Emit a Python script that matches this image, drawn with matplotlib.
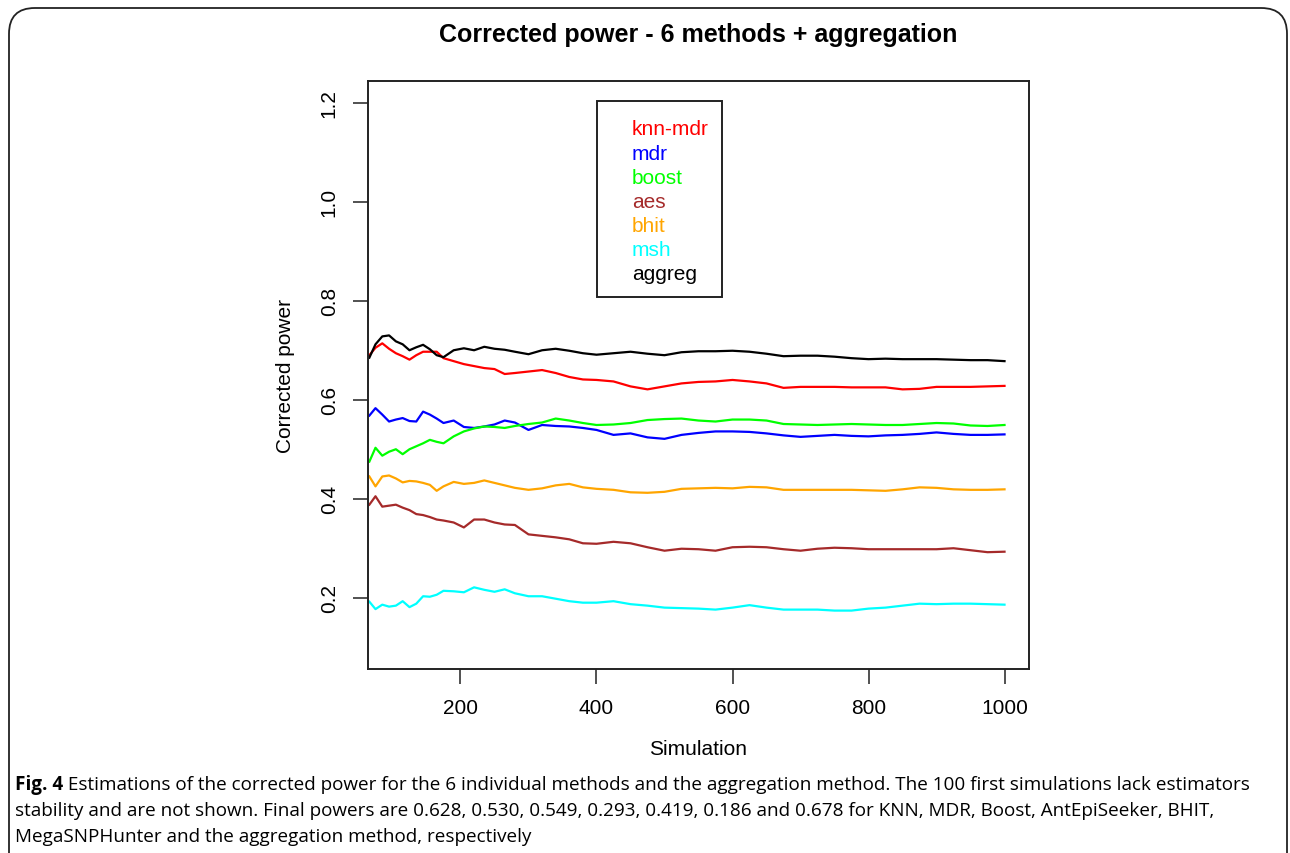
import matplotlib
matplotlib.use("Agg")
import matplotlib.pyplot as plt
from matplotlib.patches import FancyBboxPatch, Rectangle

# simulation index (running estimate of corrected power)
sims = [66, 75, 85, 95, 105, 115, 125, 135, 145, 155, 165, 175, 190, 205, 220, 235,
        250, 265, 280, 300, 320, 340, 360, 380, 400, 425, 450, 475, 500, 525, 550,
        575, 600, 625, 650, 675, 700, 725, 750, 775, 800, 825, 850, 875, 900, 925,
        950, 975, 1000]

knn_mdr = [0.690, 0.705, 0.714, 0.703, 0.694, 0.688, 0.681, 0.690, 0.697, 0.697, 0.697,
           0.684, 0.678, 0.672, 0.668, 0.664, 0.662, 0.652, 0.654, 0.657, 0.660, 0.654,
           0.646, 0.641, 0.640, 0.637, 0.627, 0.621, 0.627, 0.633, 0.636, 0.637, 0.640,
           0.637, 0.633, 0.624, 0.626, 0.626, 0.626, 0.625, 0.625, 0.625, 0.621, 0.622,
           0.626, 0.626, 0.626, 0.627, 0.628]
mdr = [0.568, 0.583, 0.570, 0.556, 0.560, 0.563, 0.557, 0.556, 0.576, 0.570, 0.562,
       0.553, 0.558, 0.545, 0.543, 0.546, 0.550, 0.558, 0.554, 0.539, 0.549, 0.547,
       0.546, 0.543, 0.539, 0.529, 0.532, 0.524, 0.521, 0.529, 0.533, 0.536, 0.536,
       0.535, 0.532, 0.528, 0.525, 0.527, 0.529, 0.527, 0.526, 0.528, 0.529, 0.531,
       0.534, 0.531, 0.529, 0.529, 0.530]
boost = [0.475, 0.503, 0.487, 0.495, 0.500, 0.490, 0.500, 0.506, 0.512, 0.519, 0.515,
         0.512, 0.526, 0.536, 0.542, 0.546, 0.545, 0.543, 0.547, 0.551, 0.554, 0.562,
         0.558, 0.553, 0.549, 0.550, 0.553, 0.559, 0.561, 0.562, 0.558, 0.556, 0.560,
         0.560, 0.558, 0.551, 0.550, 0.549, 0.550, 0.551, 0.550, 0.549, 0.549, 0.551,
         0.553, 0.552, 0.548, 0.547, 0.549]
aes = [0.388, 0.405, 0.384, 0.386, 0.388, 0.382, 0.377, 0.369, 0.367, 0.363, 0.358,
       0.356, 0.352, 0.342, 0.358, 0.358, 0.352, 0.348, 0.347, 0.328, 0.325, 0.322,
       0.318, 0.310, 0.309, 0.313, 0.310, 0.302, 0.295, 0.299, 0.298, 0.295, 0.302,
       0.303, 0.302, 0.298, 0.295, 0.299, 0.301, 0.300, 0.298, 0.298, 0.298, 0.298,
       0.298, 0.300, 0.296, 0.292, 0.293]
bhit = [0.445, 0.425, 0.445, 0.447, 0.441, 0.433, 0.436, 0.435, 0.432, 0.428, 0.416,
        0.425, 0.434, 0.430, 0.432, 0.437, 0.432, 0.427, 0.422, 0.418, 0.421, 0.427,
        0.430, 0.423, 0.420, 0.418, 0.413, 0.412, 0.414, 0.420, 0.421, 0.422, 0.421,
        0.424, 0.423, 0.418, 0.418, 0.418, 0.418, 0.418, 0.417, 0.416, 0.419, 0.423,
        0.422, 0.419, 0.418, 0.418, 0.419]
msh = [0.192, 0.177, 0.186, 0.182, 0.184, 0.193, 0.181, 0.188, 0.203, 0.202, 0.206,
       0.214, 0.213, 0.211, 0.221, 0.216, 0.212, 0.217, 0.209, 0.203, 0.203, 0.198,
       0.193, 0.190, 0.190, 0.193, 0.187, 0.184, 0.180, 0.179, 0.178, 0.176, 0.180,
       0.185, 0.180, 0.176, 0.176, 0.176, 0.174, 0.174, 0.178, 0.180, 0.184, 0.188,
       0.187, 0.188, 0.188, 0.187, 0.186]
aggreg = [0.685, 0.712, 0.728, 0.730, 0.718, 0.712, 0.700, 0.706, 0.711, 0.702, 0.690,
          0.686, 0.700, 0.704, 0.700, 0.707, 0.703, 0.701, 0.697, 0.692, 0.700, 0.703,
          0.699, 0.694, 0.691, 0.694, 0.697, 0.693, 0.690, 0.696, 0.698, 0.698, 0.699,
          0.697, 0.693, 0.688, 0.689, 0.689, 0.687, 0.684, 0.682, 0.683, 0.682, 0.682,
          0.682, 0.681, 0.680, 0.680, 0.678]

labels = ["knn-mdr", "mdr", "boost", "aes", "bhit", "msh", "aggreg"]
colors = ["#FF0000", "#0000FF", "#00FF00", "#A52A2A", "#FFA500", "#00FFFF", "#000000"]
series = [knn_mdr, mdr, boost, aes, bhit, msh, aggreg]

xticks = [200, 400, 600, 800, 1000]
yticks = [0.2, 0.4, 0.6, 0.8, 1.0, 1.2]

caption_bold = "Fig. 4"
caption_lines = [
    " Estimations of the corrected power for the 6 individual methods and the aggregation method. The 100 first simulations lack estimators",
    "stability and are not shown. Final powers are 0.628, 0.530, 0.549, 0.293, 0.419, 0.186 and 0.678 for KNN, MDR, Boost, AntEpiSeeker, BHIT,",
    "MegaSNPHunter and the aggregation method, respectively",
]

W, H = 1290, 854
plt.rcParams['font.family'] = ['Liberation Sans', 'DejaVu Sans']
fig = plt.figure(figsize=(W / 100, H / 100), dpi=100)

# rounded frame around the figure panel
frame = FancyBboxPatch((9 / W, -0.05), (1287 - 9) / W, (H - 9) / H + 0.05,
                       boxstyle="round,pad=0,rounding_size=0.02",
                       transform=fig.transFigure, fill=False, ec="#222222", lw=1.3,
                       mutation_aspect=W / H)
fig.patches.append(frame)

ax = fig.add_axes([368 / W, (H - 670) / H, (1029 - 368) / W, (670 - 82) / H])
for vals, c in zip(series, colors):
    ax.plot(sims, vals, color=c, lw=1.6)

ax.set_xlim(64, 1036)
ax.set_ylim(0.056, 1.244)
ax.set_xticks(xticks)
ax.set_yticks(yticks)
ax.set_yticklabels([f"{v:.1f}" for v in yticks], rotation=90, va="center")
ax.tick_params(direction="out", length=11, width=1.1, labelsize=15, pad=10, color="#222222")
for s in ax.spines.values():
    s.set_linewidth(1.4)
    s.set_color("#222222")
ax.set_xlabel("Simulation", fontsize=15, labelpad=16)
ax.set_ylabel("Corrected power", fontsize=15, labelpad=18)

fig.text(698 / W, 1 - 35 / H, "Corrected power - 6 methods + aggregation",
         ha="center", va="center", fontsize=18, fontweight="bold")

# R-style legend: coloured text, no line keys
fig.patches.append(Rectangle((597 / W, 1 - 298 / H), (722 - 597) / W, (298 - 102) / H,
                             transform=fig.transFigure, fill=False, ec="#222222", lw=1.4))
row_y = [130, 154, 179, 203, 227, 251, 275]
for lab, c, y in zip(labels, colors, row_y):
    fig.text(632 / W, 1 - y / H, lab, color=c, fontsize=15, ha="left", va="center")

# caption
cap_font = ['Open Sans', 'DejaVu Sans']
cap_size = 13.6
fig.canvas.draw()
r = fig.canvas.get_renderer()
tb = fig.text(15 / W, 1 - 785 / H, caption_bold, fontsize=cap_size, fontweight="bold",
              family=cap_font, ha="left", va="center")
bw = tb.get_window_extent(renderer=r).width
fig.text((15 + bw) / W, 1 - 785 / H, caption_lines[0], fontsize=cap_size,
         family=cap_font, ha="left", va="center")
fig.text(15 / W, 1 - 811 / H, caption_lines[1], fontsize=cap_size,
         family=cap_font, ha="left", va="center")
fig.text(15 / W, 1 - 837 / H, caption_lines[2], fontsize=cap_size,
         family=cap_font, ha="left", va="center")

fig.savefig("out.png", dpi=100)
